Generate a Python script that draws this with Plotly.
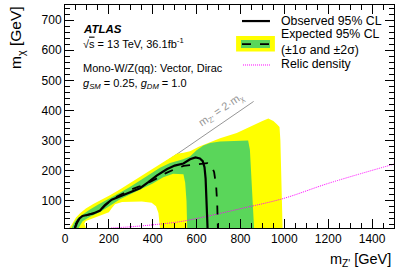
import plotly.graph_objects as go

# ---------------- data (GeV) ----------------
yellow_x = [22, 35, 50, 70, 95, 129, 170, 205, 250, 281, 320, 357, 400, 433, 479, 509, 540, 570, 610, 646, 707, 783, 859, 900, 927, 950, 965, 978, 982, 987, 992]
yellow_y = [10, 28, 45, 60, 75, 90, 105, 119, 138, 152, 170, 189, 208, 223, 243, 256, 260, 265, 280, 291, 308, 325, 352, 365, 373, 365, 355, 345, 300, 150, 10]

hole_x = [95, 88, 95, 120, 160, 200, 212, 228, 260, 300, 350, 395, 415, 426, 431, 433]
hole_y = [10, 25, 33, 40, 50, 62, 75, 89, 96, 98, 98, 94, 82, 60, 35, 10]

green_x = [30, 42, 57, 80, 110, 150, 205, 250, 296, 342, 380, 433, 479, 539, 570, 600, 631, 661, 707, 760, 835, 843, 850, 856, 862,
           557, 554, 548, 540, 493, 448, 400, 342, 296, 251, 205, 160, 114, 80, 62]
green_y = [10, 28, 42, 55, 70, 87, 108, 127, 146, 168, 186, 210, 226, 238, 247, 268, 284, 292, 297, 299, 300, 270, 160, 70, 10,
           10, 100, 160, 188, 190, 178, 158, 138, 122, 105, 84, 63, 47, 32, 10]

obs_x = [46, 55, 66, 80, 100, 129, 160, 182, 213, 251, 296, 342, 380, 418, 464, 500, 540, 570, 595, 615, 628, 636, 641, 645, 648, 650]
obs_y = [10, 28, 42, 50, 53, 58, 68, 86, 104, 116, 128, 142, 162, 184, 205, 217, 224, 238, 244, 241, 232, 212, 175, 120, 60, 10]

exp_x = [44, 53, 63, 78, 100, 130, 160, 185, 215, 255, 300, 340, 380, 420, 460, 500, 540, 580, 620, 650, 666, 680, 689, 694, 697]
exp_y = [10, 28, 40, 48, 53, 59, 69, 87, 106, 121, 137, 148, 160, 175, 192, 205, 216, 220, 222, 225, 220, 195, 150, 90, 10]

relic_x = [210, 300, 420, 524, 616, 800, 996, 1200, 1500]
relic_y = [10, 14, 22, 31, 44, 74, 108, 158, 222]

diag_x = [20, 860]
diag_y = [10, 430]

YELLOW = "rgb(255,255,0)"
GREEN = "rgb(90,214,90)"
MAGENTA = "rgb(255,0,255)"
FONT = "Liberation Sans, Arial, Helvetica, sans-serif"

fig = go.Figure()
fig.add_trace(go.Scatter(x=diag_x, y=diag_y, mode="lines",
                         line=dict(color="rgb(150,150,150)", width=1), hoverinfo="skip"))
fig.add_trace(go.Scatter(x=yellow_x, y=yellow_y, mode="lines", fill="toself",
                         fillcolor=YELLOW, line=dict(width=0, color=YELLOW)))
fig.add_trace(go.Scatter(x=hole_x, y=hole_y, mode="lines", fill="toself",
                         fillcolor="white", line=dict(width=0, color="white")))
fig.add_trace(go.Scatter(x=green_x, y=green_y, mode="lines", fill="toself",
                         fillcolor=GREEN, line=dict(width=0, color=GREEN)))
fig.add_trace(go.Scatter(x=relic_x, y=relic_y, mode="lines", line_shape="spline",
                         line=dict(color=MAGENTA, width=1, dash="1px,1px")))
fig.add_trace(go.Scatter(x=exp_x, y=exp_y, mode="lines",
                         line=dict(color="black", width=1.8, dash="dash")))
fig.add_trace(go.Scatter(x=obs_x, y=obs_y, mode="lines",
                         line=dict(color="black", width=2.2)))

axis_common = dict(showgrid=False, zeroline=False, showline=True, linecolor="black",
                   linewidth=1, mirror="allticks", ticks="inside", ticklen=9,
                   tickcolor="black", tickwidth=1,
                   tickfont=dict(family=FONT, size=12, color="black"))
fig.update_xaxes(range=[0, 1500], tick0=0, dtick=200,
                 minor=dict(dtick=50, ticks="inside", ticklen=5, tickcolor="black"),
                 **axis_common)
fig.update_yaxes(range=[10, 750], tick0=0, dtick=100,
                 minor=dict(dtick=20, ticks="inside", ticklen=5, tickcolor="black"),
                 **axis_common)

ann = []
def txt(x, y, s, size=11, xanchor="left", **kw):
    ann.append(dict(x=x, y=y, xref="paper", yref="paper", text=s, showarrow=False,
                    xanchor=xanchor, yanchor="middle",
                    font=dict(family=FONT, size=size, color=kw.pop("color", "black")), **kw))

# axis titles
txt(-0.147, 0.855, "m<sub>χ</sub> [GeV]", size=15.5, xanchor="center", textangle=-90)
txt(0.997, -0.143, "m<sub>Z'</sub> [GeV]", size=14.5, xanchor="right")

# left labels
txt(0.05, 0.892, "<b><i>ATLAS</i></b>", size=11.5)
txt(0.05, 0.830, "√<span style='text-decoration:overline'>s</span> = 13 TeV, 36.1fb<sup>-1</sup>", size=11)
txt(0.05, 0.717, "Mono-W/Z(qq): Vector, Dirac", size=11)
txt(0.05, 0.646, "<i>g<sub>SM</sub></i> = 0.25, <i>g<sub>DM</sub></i> = 1.0", size=11)

# diagonal label
ann.append(dict(x=712, y=400, xref="x", yref="y", text="m<sub>Z'</sub> = 2·m<sub>χ</sub>",
                showarrow=False, textangle=-34,
                font=dict(family=FONT, size=11, color="rgb(150,150,150)")))

# legend
txt(0.650, 0.928, "Observed 95% CL", size=12.3)
txt(0.650, 0.872, "Expected 95% CL", size=12.3)
txt(0.650, 0.800, "(±1σ and ±2σ)", size=12.3)
txt(0.650, 0.735, "Relic density", size=12.3)

shapes = [
    dict(type="line", xref="paper", yref="paper", x0=0.538, x1=0.623, y0=0.928, y1=0.928,
         line=dict(color="black", width=2.2)),
    dict(type="rect", xref="paper", yref="paper", x0=0.520, x1=0.638, y0=0.791, y1=0.861,
         fillcolor=YELLOW, line=dict(width=0)),
    dict(type="rect", xref="paper", yref="paper", x0=0.535, x1=0.623, y0=0.807, y1=0.843,
         fillcolor=GREEN, line=dict(width=0)),
    dict(type="line", xref="paper", yref="paper", x0=0.538, x1=0.623, y0=0.825, y1=0.825,
         line=dict(color="black", width=1.8, dash="dash")),
    dict(type="line", xref="paper", yref="paper", x0=0.541, x1=0.623, y0=0.731, y1=0.731,
         line=dict(color=MAGENTA, width=1, dash="1px,1px")),
]

fig.update_layout(width=399, height=274, margin=dict(l=65, r=5, t=5, b=46),
                  paper_bgcolor="white", plot_bgcolor="white", showlegend=False,
                  annotations=ann, shapes=shapes,
                  font=dict(family=FONT, color="black"))
fig.write_html("out.html", config={"displayModeBar": False},
               post_script="document.body.style.margin='0';document.body.style.padding='0';")
